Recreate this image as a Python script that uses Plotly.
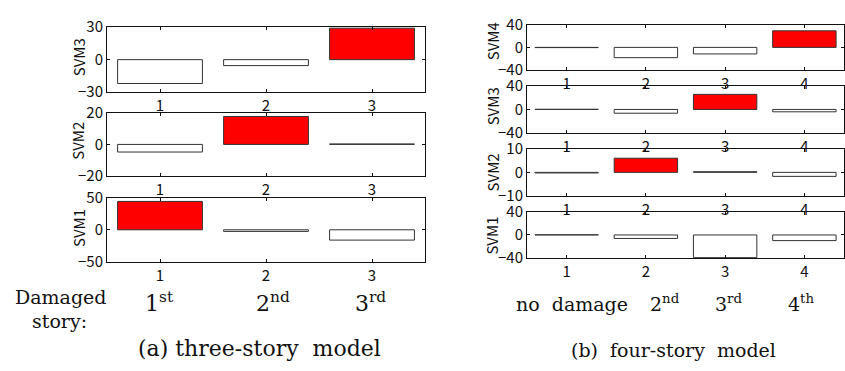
import plotly.graph_objects as go

W, H = 845, 371

# ---------------- data ----------------
cats_a = [1, 2, 3]
cats_b = [1, 2, 3, 4]

# (a) three-story model
svm3_a = [-22, -5.5, 29]
svm2_a = [-4.8, 17.6, 0.3]
svm1_a = [44, -2.5, -16]
# (b) four-story model
svm4_b = [-0.4, -18, -11.5, 29]
svm3_b = [0.3, -6.4, 25.6, -4]
svm2_b = [-0.25, 6, 0.3, -1.7]
svm1_b = [0.4, -6, -39, -9.7]

names_a = ["SVM3", "SVM2", "SVM1"]
values_a = [svm3_a, svm2_a, svm1_a]
damaged_a = [3, 2, 1]          # category highlighted in red
limits_a = [30, 20, 50]

names_b = ["SVM4", "SVM3", "SVM2", "SVM1"]
values_b = [svm4_b, svm3_b, svm2_b, svm1_b]
damaged_b = [4, 3, 2, None]
limits_b = [40, 40, 10, 40]

story_labels_a = ["1<sup>st</sup>", "2<sup>nd</sup>", "3<sup>rd</sup>"]
story_labels_b = ["no\u00a0\u00a0damage", "2<sup>nd</sup>", "3<sup>rd</sup>", "4<sup>th</sup>"]

# ---------------- layout geometry (window pixels) ----------------
left_x = (107, 425)
left_rows = [(16, 85), (106.7, 174), (196.7, 265)]
left_title_y = [48, 136.5, 229]
right_x = (527, 844)
right_rows = [(13.3, 61.7), (78.3, 128.3), (145, 195), (211.7, 261)]
right_title_y = [31, 100, 170, 237]

RED = "#ff0000"
SANS = "Noto Sans CJK JP"
SERIF = "DejaVu Serif"
TICKFONT = dict(family=SANS, size=15, color="#111")

fig = go.Figure()
layout = dict(width=W, height=H, margin=dict(l=0, r=0, t=0, b=0),
              paper_bgcolor="white", plot_bgcolor="white", showlegend=False,
              bargap=0.2)
annotations = []

def px_x(x):
    return x / W

def px_y(y):
    return 1 - y / H

idx = 0
def add_panel(cats, vals, dmg, lim, xpx, ypx, name, title_y, title_x):
    global idx
    idx += 1
    xa = "x" if idx == 1 else f"x{idx}"
    ya = "y" if idx == 1 else f"y{idx}"
    colors = [RED if c == dmg else "white" for c in cats]
    fig.add_trace(go.Bar(x=cats, y=vals, xaxis=xa, yaxis=ya, width=0.8,
                         marker=dict(color=colors, line=dict(color="#333", width=1)),
                         hoverinfo="x+y"))
    xk = "xaxis" if idx == 1 else f"xaxis{idx}"
    yk = "yaxis" if idx == 1 else f"yaxis{idx}"
    layout[xk] = dict(domain=[px_x(xpx[0]), px_x(xpx[1])], anchor=ya,
                      range=[0.5, len(cats) + 0.5], tickvals=cats,
                      ticks="inside", ticklen=3, tickcolor="#111", mirror="ticks",
                      showline=True, linecolor="#111", linewidth=1,
                      showgrid=False, zeroline=False, tickfont=TICKFONT)
    layout[yk] = dict(domain=[px_y(ypx[1]), px_y(ypx[0])], anchor=xa,
                      range=[-lim, lim], tickvals=[-lim, 0, lim],
                      ticks="inside", ticklen=3, tickcolor="#111", mirror="ticks",
                      showline=True, linecolor="#111", linewidth=1,
                      showgrid=False, zeroline=False, tickfont=TICKFONT)
    annotations.append(dict(text=name, x=px_x(title_x), y=px_y(title_y),
                            xref="paper", yref="paper", showarrow=False,
                            textangle=-90, xanchor="center", yanchor="middle",
                            font=dict(family=SANS, size=15, color="#111")))

for k in range(3):
    add_panel(cats_a, values_a[k], damaged_a[k], limits_a[k], left_x, left_rows[k],
              names_a[k], left_title_y[k], 78)
for k in range(4):
    add_panel(cats_b, values_b[k], damaged_b[k], limits_b[k], right_x, right_rows[k],
              names_b[k], right_title_y[k], 492)

def note(text, x, baseline, size):
    # place text by its baseline (box bottom = baseline + descent + padding)
    bottom = baseline + 0.236 * size + 2
    annotations.append(dict(text=text, x=px_x(x), y=px_y(bottom), xref="paper", yref="paper",
                            showarrow=False, xanchor="center", yanchor="bottom",
                            font=dict(family=SERIF, size=size, color="#111")))

note("Damaged", 60, 309, 19)
note("story:", 59, 335, 19)
for lab, cx in zip(story_labels_a, [159.5, 272.5, 370.5]):
    note(lab, cx, 317, 22)
note("(a)\u00a0three-story\u00a0\u00a0model", 259, 365, 22)

for lab, cx in zip(story_labels_b, [572, 665, 728, 800.5]):
    note(lab, cx, 316.5, 19)
note("(b)\u00a0\u00a0four-story\u00a0\u00a0model", 673.5, 365.5, 19)

layout["annotations"] = annotations
fig.update_layout(**layout)
fig.write_html("out.html", config={"displayModeBar": False},
               post_script="document.body.style.margin='0px';")
